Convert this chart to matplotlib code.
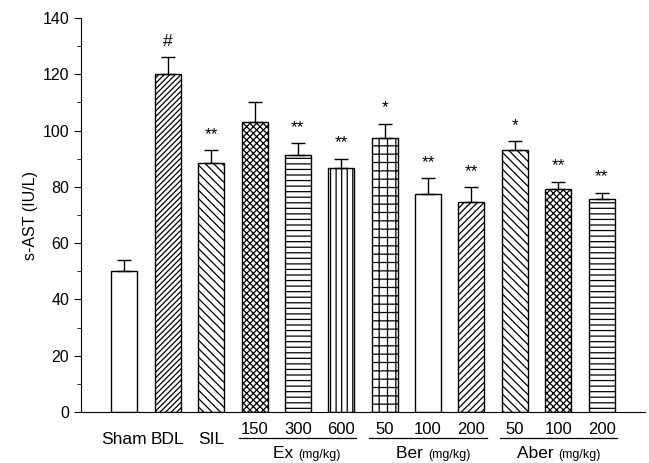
import numpy as np
import matplotlib
matplotlib.use('Agg')
import matplotlib.pyplot as plt
import matplotlib.transforms as mtransforms

plt.rcParams['font.family'] = ['Liberation Sans', 'DejaVu Sans']
plt.rcParams['hatch.linewidth'] = 0.9

# Données
tick_labels = ['Sham', 'BDL', 'SIL', '150', '300', '600', '50', '100', '200', '50', '100', '200']
values = [50, 120, 88.5, 103, 91.5, 86.8, 97.5, 77.5, 74.8, 93.2, 79.2, 75.7]
errors = [4, 6, 4.5, 7, 4, 3.2, 5, 5.5, 5, 3, 2.6, 2.3]
marks = ['', '#', '**', '', '**', '**', '*', '**', '**', '*', '**', '**']
hatches = ['', '//////', '\\\\\\\\', 'xxxxx', '---', '|||', '++', '', '/////', '\\\\\\\\', 'xxxxx', '---']
groups = ['Ex', 'Ber', 'Aber']
group_members = [[3, 4, 5], [6, 7, 8], [9, 10, 11]]

x = np.arange(1, len(values) + 1)

fig = plt.figure(figsize=(6.49, 4.63), dpi=100)
ax = fig.add_axes([0.1248, 0.110, 0.869, 0.851])

ax.bar(x, values, width=0.6, color='white', edgecolor='black', linewidth=1.0,
       hatch=hatches, zorder=2)
ax.errorbar(x, values, yerr=[np.zeros(len(errors)), errors], fmt='none',
            ecolor='black', elinewidth=1.0, capsize=5, capthick=1.0, zorder=3)

for xi, v, e, m in zip(x, values, errors, marks):
    if m:
        ax.text(xi, v + e + 3, m, ha='center', va='bottom', fontsize=12.5)

ax.set_xlim(0, 13)
ax.set_ylim(0, 140)
ax.set_yticks(np.arange(0, 141, 20))
ax.set_yticks(np.arange(10, 140, 20), minor=True)
ax.tick_params(axis='y', which='major', direction='out', length=5, labelsize=11.5)
ax.tick_params(axis='y', which='minor', direction='out', length=3)
ax.set_xticks([])
ax.spines['top'].set_visible(False)
ax.spines['right'].set_visible(False)
ax.set_ylabel('s-AST (IU/L)', fontsize=11.5, labelpad=3)

trans = mtransforms.blended_transform_factory(ax.transData, ax.transAxes)
for i in range(3):
    ax.text(x[i], -0.07, tick_labels[i], transform=trans, ha='center', va='center', fontsize=12.5)
for g, members in zip(groups, group_members):
    for i in members:
        ax.text(x[i], -0.045, tick_labels[i], transform=trans, ha='center', va='center', fontsize=12)
    ax.plot([x[members[0]] - 0.35, x[members[-1]] + 0.35], [-0.065, -0.065],
            transform=trans, color='black', linewidth=0.9, clip_on=False)
    ax.text(x[members[1]], -0.105, g + ' ', transform=trans, ha='right', va='center', fontsize=12.5)
    ax.text(x[members[1]], -0.108, '(mg/kg)', transform=trans, ha='left', va='center', fontsize=9)

fig.savefig('out.png', dpi=100)
